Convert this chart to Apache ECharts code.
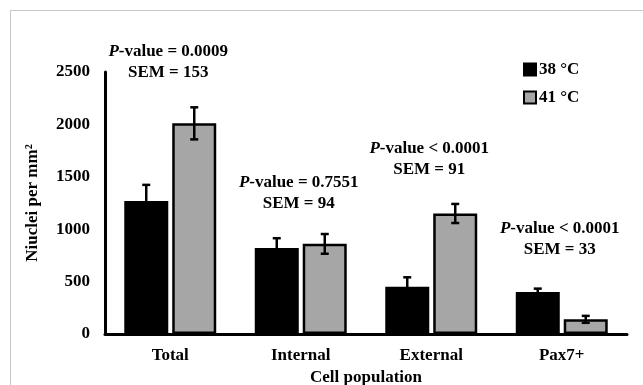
<!DOCTYPE html>
<html><head><meta charset="utf-8">
<script src="https://cdn.jsdelivr.net/npm/echarts@6/dist/echarts.min.js"></script>
<style>html,body{margin:0;padding:0;background:#fff}#c{width:643px;height:385px}</style>
</head><body><div id="c"></div>
<script>
const categories = ['Total', 'Internal', 'External', 'Pax7+'];
const series38 = [1270, 820, 450, 400];
const series41 = [2010, 860, 1150, 140];
const sem = [153, 94, 91, 33];
const pValues = ['= 0.0009', '= 0.7551', '< 0.0001', '< 0.0001'];
const yTicks = [0, 500, 1000, 1500, 2000, 2500];
const annotY = [2595, 1343, 1672, 905];

const FONT = '"Liberation Serif", "Times New Roman", serif';
const FS = 17;
const chart = echarts.init(document.getElementById('c'), null, {renderer: 'canvas'});

function errSeries(vals, offset) {
  return {
    type: 'custom',
    z: 5,
    data: vals.map((v, i) => [i, v, sem[i]]),
    renderItem: function (params, api) {
      const i = api.value(0), v = api.value(1), s = api.value(2);
      const base = api.coord([i, v]);
      const hi = api.coord([i, v + s]);
      const lo = api.coord([i, v - s]);
      const x = base[0] + offset;
      const cap = 4;
      const st = {stroke: '#000', lineWidth: 2.5};
      return {type: 'group', children: [
        {type: 'line', shape: {x1: x, y1: hi[1], x2: x, y2: lo[1]}, style: st},
        {type: 'line', shape: {x1: x - cap, y1: hi[1], x2: x + cap, y2: hi[1]}, style: st},
        {type: 'line', shape: {x1: x - cap, y1: lo[1], x2: x + cap, y2: lo[1]}, style: st}
      ]};
    }
  };
}

const annotSeries = {
  type: 'custom',
  z: 6,
  clip: false,
  data: categories.map((c, i) => [i, annotY[i]]),
  renderItem: function (params, api) {
    const i = api.value(0);
    const p = api.coord([i, api.value(1)]);
    return {type: 'text', x: p[0] - 2, y: p[1],
      style: {
        text: '{i|P}{b|-value ' + pValues[i] + '}\n{b|SEM = ' + sem[i] + '}',
        align: 'center', verticalAlign: 'middle',
        rich: {
          i: {fontFamily: FONT, fontSize: FS, fontWeight: 'bold', fontStyle: 'italic', fill: '#000', lineHeight: 21},
          b: {fontFamily: FONT, fontSize: FS, fontWeight: 'bold', fill: '#000', lineHeight: 21}
        }
      }};
  }
};

chart.setOption({
  animation: false,
  backgroundColor: '#fff',
  grid: {left: 105, right: 16, top: 72, bottom: 51, containLabel: false, outerBoundsMode: 'none'},
  legend: {
    orient: 'vertical', left: 518, top: 56, itemWidth: 12, itemHeight: 12, itemGap: 11,
    icon: 'rect',
    textStyle: {fontFamily: FONT, fontSize: FS, fontWeight: 'bold', color: '#000', padding: [0, 0, 0, -2]},
    data: ['38 °C', '41 °C']
  },
  xAxis: {
    type: 'category', data: categories,
    name: 'Cell population', nameLocation: 'middle', nameGap: 35,
    nameTextStyle: {fontFamily: FONT, fontSize: FS, fontWeight: 'bold', color: '#000'},
    axisLine: {lineStyle: {color: '#000', width: 3}},
    axisTick: {show: false},
    axisLabel: {fontFamily: FONT, fontSize: FS, fontWeight: 'bold', color: '#000', margin: 13}
  },
  yAxis: {
    type: 'value', min: yTicks[0], max: yTicks[yTicks.length - 1], interval: 500,
    name: 'Niuclei per mm²', nameLocation: 'middle', nameGap: 64, nameMoveOverlap: false,
    nameTextStyle: {fontFamily: FONT, fontSize: FS, fontWeight: 'bold', color: '#000'},
    axisLine: {show: true, lineStyle: {color: '#000', width: 3}},
    axisTick: {show: false},
    splitLine: {show: false},
    axisLabel: {fontFamily: FONT, fontSize: FS, fontWeight: 'bold', color: '#000', margin: 15,
      formatter: function (v) { return String(v); }}
  },
  graphic: [
    {type: 'line', shape: {x1: 10, y1: 10.5, x2: 643, y2: 10.5}, style: {stroke: '#c8c8c8', lineWidth: 1}},
    {type: 'line', shape: {x1: 10.5, y1: 10, x2: 10.5, y2: 385}, style: {stroke: '#c8c8c8', lineWidth: 1}}
  ],
  series: [
    {name: '38 °C', type: 'bar', data: series38, barWidth: 44, barGap: '9%',
     itemStyle: {color: '#000', borderColor: '#000', borderWidth: 2}},
    {name: '41 °C', type: 'bar', data: series41, barWidth: 44, barGap: '9%',
     itemStyle: {color: '#a6a6a6', borderColor: '#000', borderWidth: 2.5}},
    errSeries(series38, -24),
    errSeries(series41, 24),
    annotSeries
  ]
});
</script></body></html>
